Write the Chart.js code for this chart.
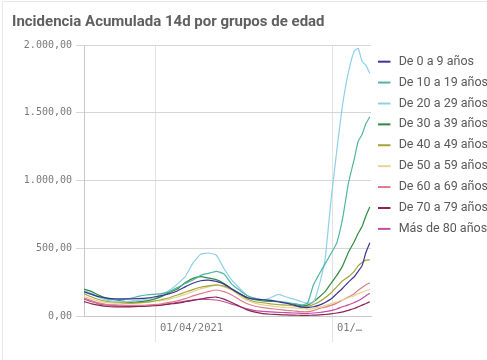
<!DOCTYPE html>
<html><head><meta charset="utf-8">
<script src="https://cdn.jsdelivr.net/npm/chart.js@4.4.0/dist/chart.umd.min.js"></script>
<style>
html,body{margin:0;padding:0;background:#fff;overflow:hidden}
#wrap{position:relative;width:487px;height:360px}
#frame{position:absolute;left:2px;top:1px;width:600px;height:400px;border:1px solid #e8e8e8;box-sizing:border-box;pointer-events:none}
</style></head>
<body><div id="wrap"><canvas id="c" width="487" height="360"></canvas><div id="frame"></div></div>
<script>
// Day index: 0 = 23/02/2021
const days = [0,4,8,12,16,20,24,28,32,36,40,44,48,52,56,60,64,68,72,76,80,84,88,92,96,100,104,108,112,115,118,121,124,127,130,133,136,139,141,143,145,147];
const seriesNames = ['De 0 a 9 años','De 10 a 19 años','De 20 a 29 años','De 30 a 39 años','De 40 a 49 años','De 50 a 59 años','De 60 a 69 años','De 70 a 79 años','Más de 80 años'];
const s0_9   = [180,160,142,132,127,127,127,128,132,140,150,165,185,215,242,260,265,255,235,200,165,135,125,120,115,105,95,80,65,62,68,80,100,125,165,205,250,290,330,370,470,540];
const s10_19 = [176,160,140,125,120,122,130,145,155,160,165,180,210,240,265,300,315,330,310,235,190,150,130,120,115,108,100,92,82,95,230,310,385,460,540,720,980,1160,1290,1340,1420,1470];
const s20_29 = [190,165,135,115,105,105,110,115,125,135,160,190,235,290,390,455,465,450,350,265,205,150,130,120,135,160,140,125,105,95,100,230,420,850,1220,1560,1800,1955,1975,1880,1850,1790];
const s30_39 = [198,180,150,130,120,110,103,105,112,125,145,175,200,245,278,290,280,268,240,200,165,135,120,112,108,105,98,88,75,80,105,140,180,240,300,370,470,550,610,660,740,805];
const s40_49 = [164,140,120,108,103,98,95,98,103,110,122,135,155,175,195,212,222,230,220,195,160,125,105,98,90,84,80,75,68,70,85,105,135,170,215,260,290,330,370,395,412,415];
const s50_59 = [144,125,108,98,95,93,93,95,100,108,115,125,140,160,180,200,215,225,215,190,150,115,95,82,75,68,63,60,55,50,55,65,78,90,105,120,135,150,165,175,188,195];
const s60_69 = [132,112,95,85,82,80,78,78,80,84,90,100,112,128,148,165,180,192,180,155,120,90,72,62,55,48,42,37,32,32,40,55,65,78,95,118,140,165,190,210,230,245];
const s70_79 = [107,90,78,70,68,68,68,70,72,76,80,88,95,105,115,125,135,140,125,100,72,45,28,18,13,10,8,6,5,5,6,8,11,15,22,30,42,55,68,80,92,105];
const s80    = [125,105,88,80,76,73,71,72,74,78,84,92,100,110,118,125,122,118,105,88,70,52,40,34,30,27,25,22,20,20,22,26,32,40,52,68,82,100,112,130,150,168];
const colors = ['#3d3497','#52b5a1','#8ed0ea','#2f8a3f','#a2a43a','#e6d48f','#de7b8a','#8b2353','#c04ea3'];
const xTickDays = [37,128];
const xTickLabels = ['01/04/2021','01/…'];
const yTicks = [0,500,1000,1500,2000];

const allSeries = [s0_9,s10_19,s20_29,s30_39,s40_49,s50_59,s60_69,s70_79,s80];
const datasets = allSeries.map((s,i)=>({
  label: seriesNames[i],
  data: s.map((v,j)=>({x:days[j], y:v})),
  borderColor: colors[i], backgroundColor: colors[i],
  borderWidth: 1.2, pointRadius: 0, tension: 0.15, fill:false
}));

// legend marker images: 12px line inside a 14px wide box
const markers = colors.map(c=>{
  const cv = document.createElement('canvas'); cv.width = 14; cv.height = 4;
  const g = cv.getContext('2d'); g.fillStyle = c; g.fillRect(0,1,12,2); return cv;
});

const fmt = v => v.toLocaleString('es-ES',{minimumFractionDigits:2,maximumFractionDigits:2,useGrouping:true}).replace(/^(\d)(\d{3}),/,'$1.$2,');

const legendFix = {
  id:'legendFix',
  beforeLayout(chart){
    const lg = chart.legend;
    if (lg && !lg._patched){
      const orig = lg.fit.bind(lg);
      lg.fit = function(){ orig(); this.width = 116; };
      lg._patched = true;
    }
  },
  afterLayout(chart){
    const lg = chart.legend;
    if (lg){ lg.top = 47; lg.left = 370; }
  }
};

new Chart(document.getElementById('c'), {
  type:'line',
  data:{datasets},
  plugins:[legendFix],
  options:{
    responsive:false, animation:false,
    layout:{padding:{left:12,top:8,right:0,bottom:0}},
    plugins:{
      title:{display:true, text:'Incidencia Acumulada 14d por grupos de edad', align:'start',
        color:'#606060', font:{family:'Roboto', size:15, weight:'bold'}, padding:{top:5,bottom:14}},
      legend:{position:'right', align:'start',
        labels:{font:{family:'Roboto', size:12.5}, color:'#595959', usePointStyle:true, pointStyleWidth:14, boxHeight:4, padding:8.4,
          generateLabels(chart){
            return chart.data.datasets.map((d,i)=>({text:d.label, fillStyle:d.borderColor, strokeStyle:d.borderColor, lineWidth:0, pointStyle:markers[i], hidden:false, datasetIndex:i, fontColor:'#595959'}));
          }}},
      tooltip:{enabled:false}
    },
    scales:{
      x:{type:'linear', min:0, max:147.6,
        afterBuildTicks(sc){ sc.ticks = xTickDays.map(v=>({value:v})); },
        afterFit(sc){ sc.height = 44; },
        ticks:{callback:(v)=>{const k=xTickDays.indexOf(v); return k>=0?xTickLabels[k]:null;},
          align:'start', labelOffset:4, padding:-20, maxRotation:0, autoSkip:false,
          font:{family:'DejaVu Sans Mono', size:10.5}, color:'#7a7a7a'},
        grid:{color:'#e3e3e3', tickLength:26, drawOnChartArea:true},
        border:{color:'#c8c8c8'}
      },
      y:{min:0, max:2000,
        afterBuildTicks(sc){ sc.ticks = yTicks.map(v=>({value:v})); },
        afterFit(sc){ sc.width = 72; },
        ticks:{callback:v=>fmt(v), padding:4, font:{family:'DejaVu Sans Mono', size:10}, color:'#7a7a7a'},
        grid:{color:'#d6d6d6', tickLength:8},
        border:{color:'#c8c8c8'}
      }
    }
  }
});
</script></body></html>
